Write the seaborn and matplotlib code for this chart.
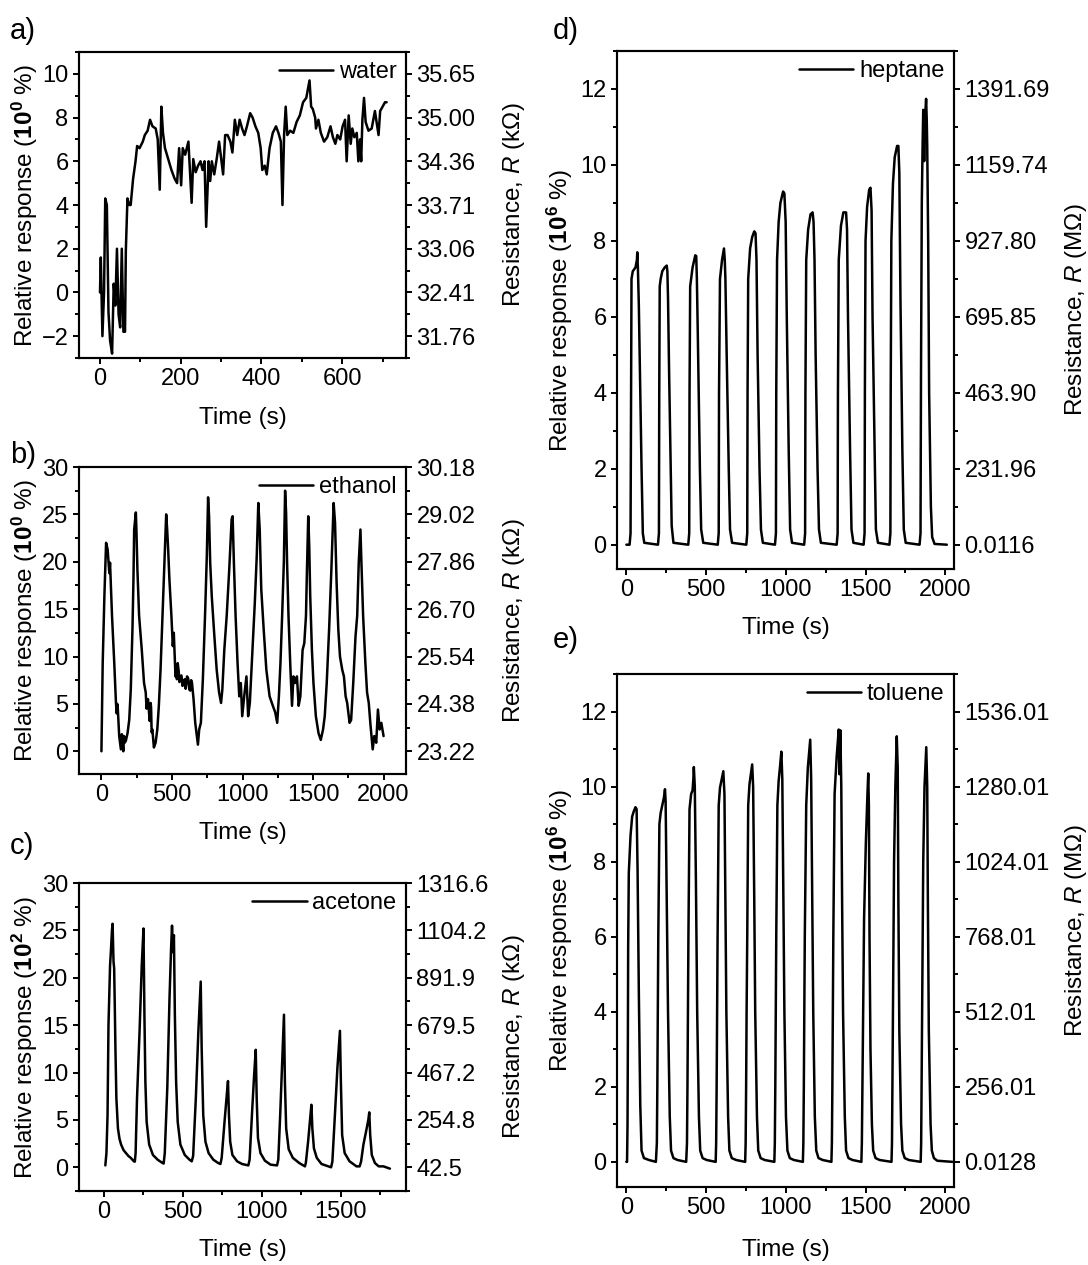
import matplotlib
matplotlib.use("Agg")
import matplotlib.pyplot as plt
import seaborn as sns
from matplotlib.ticker import MultipleLocator

# ---------------- data ----------------
water = [(0,0.0),(2,1.6),(6,-2.0),(10,0.0),(13,4.3),(17,4.0),(18,2.8),(21,-0.9),(25,-2.2),(30,-2.8),
         (34,0.4),(38,-0.6),(42,2.0),(46,-1.0),(50,-1.6),(54,2.0),(58,-1.8),(62,-1.8),(64,1.9),(68,4.3),
         (72,4.0),(76,4.0),(82,5.2),(88,6.0),(92,6.7),(98,6.6),(106,6.9),(111,7.2),(118,7.4),(124,7.9),
         (130,7.6),(138,7.5),(143,7.0),(148,4.7),(152,8.5),(156,7.3),(161,6.6),(169,6.1),(177,5.6),(185,5.2),
         (191,5.0),(196,6.6),(201,4.9),(205,6.6),(211,6.3),(215,6.6),(219,6.9),(223,5.5),(227,4.1),(231,6.1),
         (237,5.5),(243,5.8),(249,6.0),(254,5.6),(259,6.0),(263,3.0),(269,6.0),(273,5.1),(277,6.0),(283,5.4),
         (289,6.1),(295,6.9),(301,6.0),(305,5.4),(310,7.2),(316,7.2),(323,6.9),(328,6.4),(334,7.9),(340,7.2),
         (346,7.9),(352,7.5),(358,7.2),(364,7.6),(372,8.2),(378,8.0),(385,7.6),(392,7.3),(398,6.6),(402,5.6),
         (408,5.8),(413,5.4),(420,6.6),(428,7.3),(436,7.6),(442,7.3),(448,6.9),(452,4.0),(456,7.2),(460,8.5),
         (464,7.2),(471,7.4),(479,7.3),(487,7.8),(495,8.1),(503,8.7),(511,8.9),(519,9.7),(523,8.5),(527,8.4),
         (533,8.0),(535,7.5),(541,7.9),(547,7.3),(555,6.9),(563,7.1),(571,7.6),(577,7.1),(583,6.8),(588,7.2),
         (595,7.0),(601,7.6),(607,7.9),(611,6.0),(616,8.1),(621,6.8),(625,7.5),(630,7.1),(636,7.3),(640,6.0),
         (644,7.0),(647,6.0),(650,7.9),(654,8.9),(658,7.8),(665,7.4),(673,7.5),(681,8.3),(686,7.7),(690,7.2),
         (694,8.3),(700,8.5),(706,8.7),(710,8.7)]

ethanol = [(0,0.0),(9,9.3),(21,16.4),(33,22.0),(44,21.3),(56,18.8),(61,19.9),(75,14.3),(91,9.3),(103,5.1),
           (108,4.0),(112,5.0),(115,4.8),(126,1.6),(138,0.2),(145,1.8),(150,0.8),(155,0.0),(160,1.6),(165,0.9),
           (173,1.1),(185,1.9),(197,3.3),(208,6.5),(220,12.9),(227,18.1),(232,23.4),(239,24.5),(244,25.2),(248,23.4),
           (255,19.2),(267,14.3),(286,10.7),(302,7.2),(314,6.2),(320,4.5),(326,5.1),(330,5.5),(337,4.1),(342,3.2),
           (349,5.1),(352,4.6),(356,2.0),(361,2.3),(372,0.4),(384,0.9),(396,2.3),(407,4.8),(419,8.6),(431,13.6),
           (443,18.5),(454,23.4),(459,25.0),(466,23.4),(473,21.3),(482,18.1),(496,14.3),(506,11.1),(513,12.5),(525,7.9),
           (530,9.0),(535,7.6),(541,9.3),(548,8.4),(553,7.3),(560,7.9),(567,8.0),(575,6.9),(583,7.2),(590,7.6),
           (597,6.6),(607,7.9),(615,7.7),(623,6.5),(630,6.4),(636,7.5),(642,7.2),(648,6.3),(653,5.5),(665,3.0),
           (677,1.6),(684,0.7),(693,2.3),(705,3.0),(719,7.6),(735,14.6),(747,20.6),(756,26.8),(763,24.8),(771,19.9),
           (782,16.4),(799,12.5),(817,8.6),(834,6.2),(848,5.1),(857,6.5),(871,10.7),(888,14.3),(906,19.2),(923,24.5),
           (930,24.8),(939,19.9),(951,14.3),(965,9.3),(977,5.8),(988,7.2),(998,3.7),(1012,5.8),(1028,7.9),(1040,3.7),
           (1052,5.1),(1068,10.0),(1087,15.6),(1101,20.6),(1112,26.2),(1122,23.4),(1133,17.1),(1150,12.9),(1169,8.6),(1192,5.8),
           (1215,4.8),(1232,4.1),(1246,3.0),(1258,5.8),(1269,9.3),(1281,14.3),(1293,19.9),(1302,27.5),(1309,25.2),(1316,19.9),
           (1326,14.3),(1340,8.6),(1351,4.8),(1361,7.9),(1372,7.2),(1386,7.9),(1398,4.8),(1410,5.8),(1426,10.7),(1438,11.4),
           (1450,14.3),(1457,19.2),(1466,24.8),(1473,21.7),(1480,16.4),(1492,10.7),(1503,7.2),(1520,3.7),(1539,1.9),(1555,1.2),
           (1571,2.3),(1583,3.7),(1597,7.2),(1614,12.9),(1630,19.2),(1646,26.2),(1656,24.1),(1667,17.8),(1679,12.9),(1691,10.0),
           (1707,8.6),(1719,7.9),(1731,5.8),(1742,5.1),(1759,3.0),(1770,3.3),(1785,7.2),(1801,12.1),(1813,14.3),(1824,19.9),
           (1836,23.4),(1843,19.9),(1855,14.3),(1871,9.3),(1883,6.2),(1895,5.1),(1906,3.0),(1923,0.2),(1934,1.6),(1948,0.9),
           (1960,4.4),(1972,2.3),(1984,3.0),(2000,1.6)]

acetone = [(8,0.2),(15,1.5),(22,5.5),(28,15.0),(38,21.3),(44,23.0),(50,25.0),(54,25.7),(58,23.0),(60,21.7),
           (64,21.0),(68,17.0),(72,12.6),(78,7.3),(88,4.1),(98,3.0),(108,2.4),(124,1.8),(139,1.5),(154,1.2),
           (169,1.0),(189,0.63),(195,0.6),
           (200,1.5),(209,7.3),(225,14.3),(239,21.3),(250,25.2),(256,16.0),(262,9.0),(270,4.8),(286,2.4),(310,1.3),
           (340,0.8),(371,0.45),(378,0.4),
           (385,1.5),(401,8.4),(415,17.8),(425,23.1),(431,25.5),(437,22.7),(443,24.5),(449,16.1),(457,9.0),(467,4.8),
           (484,2.4),(512,1.3),(542,0.8),(556,0.63),
           (565,1.2),(582,7.3),(598,14.3),(613,19.6),(619,12.6),(629,5.5),(643,2.7),(663,1.5),(693,0.8),(724,0.45),
           (738,0.35),
           (746,1.0),(764,4.8),(778,7.6),(786,9.1),(792,5.5),(800,2.7),(814,1.3),(844,0.63),(875,0.35),(915,0.2),
           (923,0.8),(940,6.2),(952,9.8),(962,12.4),(968,7.3),(976,3.1),(992,1.5),(1020,0.7),(1056,0.28),(1097,0.2),
           (1105,0.8),(1117,5.5),(1129,10.8),(1141,16.1),(1147,9.0),(1155,4.1),(1171,1.9),(1197,1.0),(1238,0.45),(1274,0.1),
           (1280,0.5),(1294,2.7),(1309,5.5),(1315,6.6),(1321,4.1),(1331,2.0),(1349,1.0),(1379,0.35),(1440,0.0),
           (1448,0.6),(1464,5.5),(1480,10.5),(1496,14.4),(1502,9.0),(1510,3.4),(1526,1.5),(1557,0.63),(1601,0.1),(1621,0.1),
           (1630,0.6),(1645,2.4),(1662,3.8),(1676,5.0),(1682,5.8),(1688,3.4),(1698,1.3),(1718,0.45),(1742,0.1),(1772,0.1),
           (1813,-0.14)]

heptane = [(0,0.0),(20,0.0),(26,0.3),(29,4.0),(32,7.0),(40,7.2),(57,7.3),(66,7.5),(68,7.7),(72,7.3),
           (78,6.3),(85,4.5),(95,2.0),(103,0.3),(112,0.05),
           (198,0.0),(204,0.3),(206,4.0),(209,6.8),(215,7.0),(225,7.2),(240,7.3),(253,7.35),(257,7.2),(261,6.5),
           (268,4.5),(278,2.0),(284,0.5),(295,0.05),
           (388,0.0),(394,0.3),(396,4.0),(400,6.8),(415,7.3),(432,7.62),(438,7.6),(442,7.0),(448,5.5),(461,2.0),
           (469,0.4),(482,0.05),
           (573,0.0),(579,0.3),(581,4.0),(587,7.0),(600,7.5),(612,7.8),(617,7.5),(621,7.0),(629,5.0),(642,2.0),
           (650,0.4),(663,0.05),
           (752,0.0),(758,0.3),(760,4.0),(764,7.0),(776,7.8),(789,8.1),(802,8.25),(810,8.2),(816,7.5),(823,5.0),
           (835,2.0),(844,0.4),(856,0.05),
           (932,0.0),(938,0.3),(940,4.0),(945,7.5),(955,8.5),(966,9.0),(983,9.3),(991,9.25),(999,8.5),(1006,6.0),
           (1018,2.5),(1027,0.4),(1039,0.05),
           (1115,0.0),(1121,0.3),(1123,4.0),(1128,7.5),(1140,8.3),(1155,8.7),(1168,8.75),(1174,8.5),(1180,7.5),(1187,5.0),
           (1199,2.0),(1208,0.4),(1220,0.05),
           (1319,0.0),(1325,0.3),(1327,4.0),(1332,7.5),(1346,8.4),(1361,8.75),(1378,8.75),(1384,8.3),(1390,6.0),(1403,2.5),
           (1412,0.4),(1424,0.05),
           (1488,0.0),(1494,0.3),(1496,4.0),(1500,8.0),(1510,8.9),(1523,9.35),(1531,9.4),(1538,8.8),(1544,6.0),(1557,2.5),
           (1565,0.4),(1578,0.05),
           (1650,0.0),(1656,0.3),(1658,4.0),(1662,8.0),(1672,9.5),(1683,10.2),(1698,10.5),(1706,10.5),(1712,9.8),(1719,6.5),
           (1731,2.5),(1740,0.4),(1752,0.05),
           (1839,0.0),(1845,0.3),(1848,4.5),(1853,9.0),(1858,10.5),(1862,11.45),(1865,10.8),(1868,10.1),(1873,11.2),(1880,11.74),
           (1884,11.2),(1887,10.5),(1893,8.0),(1899,4.0),(1910,1.0),(1918,0.2),(1933,0.02),(2010,0.0)]

toluene = [(0,0.0),(4,0.0),(7,1.0),(9,3.0),(11,5.7),(15,7.7),(26,8.7),(36,9.2),(47,9.35),(57,9.45),
           (64,9.4),(70,7.8),(78,4.5),(87,1.5),(95,0.3),(110,0.1),(141,0.05),(185,0.0),
           (191,0.5),(194,2.0),(197,4.0),(200,6.0),(207,9.0),(215,9.3),(225,9.5),(235,9.7),(242,9.93),(246,9.6),
           (253,7.0),(261,4.0),(272,1.2),(280,0.3),(295,0.1),(320,0.05),(375,0.0),
           (380,0.5),(383,2.0),(386,4.0),(389,6.0),(396,9.4),(406,9.8),(415,9.9),(420,10.2),(423,10.52),(429,10.0),
           (436,7.5),(444,4.0),(455,1.2),(463,0.3),(478,0.1),(503,0.05),(560,0.0),
           (563,0.5),(566,2.0),(569,4.0),(572,6.0),(579,9.5),(587,9.97),(598,10.2),(608,10.41),(615,9.8),(621,7.0),
           (627,4.0),(638,1.2),(646,0.3),(661,0.1),(688,0.05),(745,0.0),
           (748,0.5),(751,2.0),(754,4.0),(758,6.0),(764,9.5),(772,10.06),(780,10.3),(789,10.59),(795,10.0),(802,7.0),
           (808,4.0),(819,1.2),(827,0.3),(842,0.1),(867,0.05),(928,0.0),
           (931,0.5),(934,2.0),(937,4.0),(940,6.0),(947,9.5),(955,10.15),(963,10.5),(972,10.93),(978,10.2),(985,7.0),
           (991,4.0),(1001,1.2),(1010,0.3),(1025,0.1),(1050,0.05),(1107,0.0),
           (1110,0.5),(1113,2.0),(1116,4.0),(1119,6.0),(1128,9.5),(1138,10.5),(1146,10.9),(1153,11.25),(1159,10.2),(1166,7.0),
           (1172,4.0),(1182,1.2),(1191,0.3),(1205,0.1),(1231,0.05),(1286,0.0),
           (1289,0.5),(1292,2.0),(1295,4.0),(1298,6.0),(1306,9.8),(1319,10.8),(1332,11.52),(1336,10.33),(1342,11.5),(1348,10.0),
           (1353,7.0),(1359,4.0),(1370,1.2),(1378,0.3),(1393,0.1),(1418,0.05),(1474,0.0),
           (1477,0.5),(1483,3.0),(1491,6.5),(1502,8.5),(1512,9.8),(1517,10.35),(1521,9.5),(1525,6.0),(1531,3.0),(1540,1.0),
           (1548,0.3),(1563,0.1),(1588,0.05),(1663,0.0),
           (1666,0.5),(1672,4.0),(1679,8.0),(1687,10.0),(1696,11.34),(1702,10.5),(1706,7.0),(1712,3.5),(1723,1.0),(1731,0.3),
           (1746,0.1),(1771,0.05),(1846,0.0),
           (1849,0.5),(1855,4.0),(1862,8.0),(1870,10.0),(1881,11.05),(1887,10.0),(1891,7.0),(1897,3.5),(1908,1.0),(1916,0.3),
           (1929,0.1),(1950,0.03),(2045,0.0)]

# tick values and right-axis (resistance) labels
water_ticks = [-2, 0, 2, 4, 6, 8, 10]
water_res = ["31.76", "32.41", "33.06", "33.71", "34.36", "35.00", "35.65"]
ethanol_ticks = [0, 5, 10, 15, 20, 25, 30]
ethanol_res = ["23.22", "24.38", "25.54", "26.70", "27.86", "29.02", "30.18"]
acetone_ticks = [0, 5, 10, 15, 20, 25, 30]
acetone_res = ["42.5", "254.8", "467.2", "679.5", "891.9", "1104.2", "1316.6"]
heptane_ticks = [0, 2, 4, 6, 8, 10, 12]
heptane_res = ["0.0116", "231.96", "463.90", "695.85", "927.80", "1159.74", "1391.69"]
toluene_ticks = [0, 2, 4, 6, 8, 10, 12]
toluene_res = ["0.0128", "256.01", "512.01", "768.01", "1024.01", "1280.01", "1536.01"]

# ---------------- style ----------------
sns.set_theme(style="ticks")
plt.rcParams['font.family'] = ['Liberation Sans', 'DejaVu Sans']
plt.rcParams['mathtext.fontset'] = 'custom'
plt.rcParams['mathtext.rm'] = 'Liberation Sans'
plt.rcParams['mathtext.it'] = 'Liberation Sans:italic'
plt.rcParams['mathtext.bf'] = 'Liberation Sans:bold'
for k in ['text.color', 'axes.labelcolor', 'xtick.color', 'ytick.color', 'axes.edgecolor']:
    plt.rcParams[k] = 'black'

W, H = 1088, 1265
fig = plt.figure(figsize=(W / 100, H / 100), dpi=100)

TICK_FS, LAB_FS, LEG_FS, LET_FS = 17, 17.5, 17, 21


def style_ticks(a):
    a.tick_params(which='both', direction='out', width=1.4, labelsize=TICK_FS, pad=3)
    a.tick_params(which='major', length=4.5)
    a.tick_params(which='minor', length=3)


def panel(box, data, name, xlim, ylim, xmaj, xmin, yticks, ymin, res_labels, unit,
          letter, letter_xy, xlab_y, ylab_lx, ylab_rx, exp):
    l, r, t, b = box
    ax = fig.add_axes([l / W, 1 - b / H, (r - l) / W, (b - t) / H])
    tt = [p[0] for p in data]
    rr = [p[1] for p in data]
    sns.lineplot(x=tt, y=rr, ax=ax, color='black', linewidth=1.8,
                 estimator=None, sort=False, label=name)
    ax.set_xlim(*xlim)
    ax.set_ylim(*ylim)
    ax.xaxis.set_major_locator(MultipleLocator(xmaj))
    ax.xaxis.set_minor_locator(MultipleLocator(xmin))
    ax.set_yticks(yticks)
    ax.yaxis.set_minor_locator(MultipleLocator(ymin))
    style_ticks(ax)
    ax.tick_params(which='both', top=False, right=False)
    ax.set_xlabel('Time (s)', fontsize=LAB_FS)
    ax.set_ylabel(r'Relative response ($\mathbf{10^{%d}}$ %%)' % exp, fontsize=LAB_FS)
    ax.xaxis.label.set_verticalalignment('center')
    ax.xaxis.set_label_coords(0.5, (b - xlab_y) / (b - t))
    ax.yaxis.label.set_verticalalignment('center')
    ax.yaxis.set_label_coords((ylab_lx - l) / (r - l), 0.5)

    ax2 = ax.twinx()
    ax2.set_ylim(*ylim)
    ax2.set_yticks(yticks)
    ax2.set_yticklabels(res_labels)
    ax2.yaxis.set_minor_locator(MultipleLocator(ymin))
    style_ticks(ax2)
    ax2.set_ylabel('Resistance, $\\it{R}$ (' + unit + ')', fontsize=LAB_FS)
    ax2.yaxis.label.set_verticalalignment('center')
    ax2.yaxis.set_label_coords((ylab_rx - l) / (r - l), 0.5)

    for a in (ax, ax2):
        for s in a.spines.values():
            s.set_linewidth(1.5)
            s.set_color('black')

    ax.legend(loc='upper right', frameon=False, fontsize=LEG_FS, handlelength=2.3,
              handletextpad=0.25, borderaxespad=0.15, borderpad=0.25)
    fig.text(letter_xy[0] / W, 1 - letter_xy[1] / H, letter, fontsize=LET_FS,
             ha='left', va='center')
    return ax


panel((79, 406, 52, 358), water, 'water', (-52, 758), (-3, 11), 200, 100,
      water_ticks, 1, water_res, 'kΩ', 'a)', (10, 31), 418, 25, 514, 0)
panel((79, 406, 467, 774), ethanol, 'ethanol', (-159, 2159), (-2.4, 30), 500, 250,
      ethanol_ticks, 2.5, ethanol_res, 'kΩ', 'b)', (10, 455), 833, 25, 514, 0)
panel((79, 406, 883, 1191), acetone, 'acetone', (-159, 1915), (-2.5, 30), 500, 250,
      acetone_ticks, 2.5, acetone_res, 'kΩ', 'c)', (10, 846), 1250, 25, 514, 2)
panel((617, 954, 51, 569), heptane, 'heptane', (-59, 2055), (-0.64, 13), 500, 250,
      heptane_ticks, 1, heptane_res, 'MΩ', 'd)', (553, 31), 628, 560, 1076, 6)
panel((617, 954, 674, 1187), toluene, 'toluene', (-59, 2055), (-0.67, 13), 500, 250,
      toluene_ticks, 1, toluene_res, 'MΩ', 'e)', (553, 640), 1250, 560, 1076, 6)

fig.savefig('out.png', dpi=100)
